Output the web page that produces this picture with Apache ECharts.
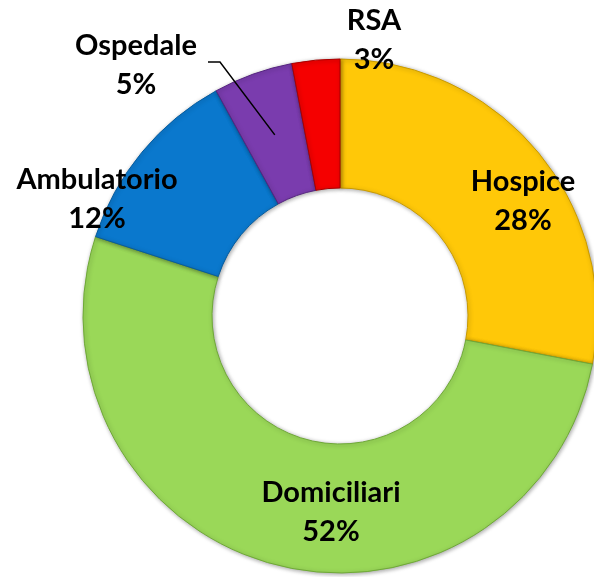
<!DOCTYPE html>
<html>
<head>
<meta charset="utf-8">
<script src="https://cdn.jsdelivr.net/npm/echarts@6/dist/echarts.min.js"></script>
<style>
html,body{margin:0;padding:0;background:#fff;}
#chart{width:594px;height:577px;}
</style>
</head>
<body>
<div id="chart"></div>
<script>
var categories = ['Hospice', 'Domiciliari', 'Ambulatorio', 'Ospedale', 'RSA'];
var values = [28, 52, 12, 5, 3];

var colors = ['#FFC808', '#9AD858', '#0A78CD', '#7A3CAE', '#F50000'];
var borders = ['#C99A00', '#6FA838', '#065C9E', '#552380', '#A80000'];
// label centre positions (px) and whether to show a leader line
var labelPos = [[523, 201], [331, 512], [97, 199], [136, 65], [374, 40]];
var showLine = [false, false, false, true, false];

var CX = 340, CY = 316, R0 = 128, R1 = 257;
var total = values.reduce(function (a, b) { return a + b; }, 0);

function midPoint(idx) {
  var before = 0;
  for (var i = 0; i < idx; i++) before += values[i];
  var frac = (before + values[idx] / 2) / total;
  var ang = (90 - frac * 360) * Math.PI / 180;
  var r = (R0 + R1) / 2;
  return [CX + r * Math.cos(ang), CY - r * Math.sin(ang)];
}

var leaders = [];
showLine.forEach(function (s, i) {
  if (!s) return;
  var p = labelPos[i];
  var m = midPoint(i);
  var sx = p[0] + 72, sy = p[1] - 3;
  leaders.push({
    type: 'polyline',
    z: 100,
    silent: true,
    shape: { points: [[sx, sy], [sx + 12, sy], m] },
    style: { stroke: '#000', lineWidth: 1.5, fill: null }
  });
});

var chart = echarts.init(document.getElementById('chart'));
var data = categories.map(function (c, i) {
  return {
    name: c,
    value: values[i],
    itemStyle: { color: colors[i], borderColor: borders[i] }
  };
});

chart.setOption({
  animation: false,
  graphic: leaders,
  series: [{
    type: 'pie',
    center: [CX, CY],
    radius: [R0, R1],
    startAngle: 90,
    clockwise: true,
    avoidLabelOverlap: false,
    itemStyle: {
      borderWidth: 1,
      shadowBlur: 4,
      shadowColor: 'rgba(0,0,0,0.35)',
      shadowOffsetX: 1,
      shadowOffsetY: 1
    },
    label: {
      show: true,
      position: 'outside',
      formatter: function (p) { return p.name + '\n' + p.value + '%'; },
      fontFamily: 'Lato',
      fontWeight: 'bold',
      fontSize: 29,
      lineHeight: 39,
      color: '#000',
      align: 'center'
    },
    labelLine: { show: false },
    labelLayout: function (params) {
      var p = labelPos[params.dataIndex];
      return { x: p[0], y: p[1], align: 'center', verticalAlign: 'middle' };
    },
    data: data
  }]
});
</script>
</body>
</html>
